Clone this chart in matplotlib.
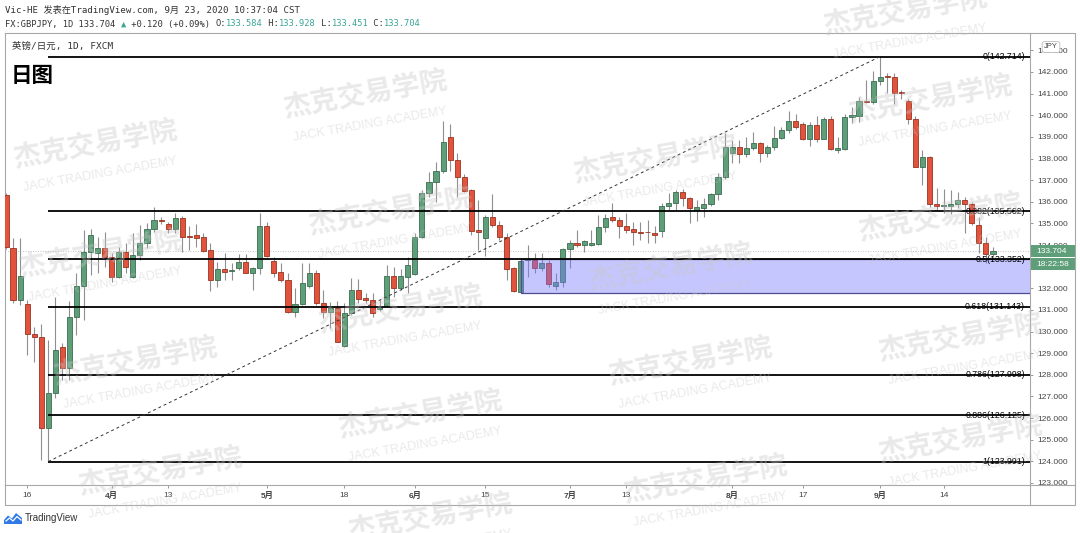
import matplotlib
matplotlib.use("Agg")
import matplotlib.pyplot as plt
from matplotlib.patches import Rectangle, Polygon
import numpy as np
import pandas as pd

# GBPJPY daily candles, 2020-03-11 .. 2020-09-23
opens = [136.31, 133.85, 131.46, 131.27, 129.87, 129.76, 125.56, 127.15, 129.27, 128.33,
         130.69, 132.12, 133.66, 133.62, 133.88, 133.46, 132.54, 133.66, 132.54, 133.54,
         134.08, 134.73, 135.16, 134.97, 134.73, 135.26, 134.44, 134.46, 134.36, 133.77,
         132.38, 132.88, 132.80, 132.92, 133.23, 132.72, 132.92, 134.89, 133.28, 132.74,
         132.38, 130.89, 131.27, 132.12, 132.72, 131.31, 130.89, 131.10, 129.33, 130.84,
         131.92, 131.55, 131.46, 131.06, 131.18, 132.58, 132.03, 132.54, 132.66, 134.39,
         136.39, 136.93, 137.44, 139.01, 137.93, 137.13, 136.54, 134.70, 134.31, 135.31,
         134.93, 134.36, 132.92, 131.84, 133.30, 133.31, 132.92, 133.15, 132.12, 132.28,
         133.82, 134.08, 134.00, 134.00, 134.05, 134.85, 135.28, 135.16, 134.89, 134.73,
         134.62, 134.60, 134.57, 134.65, 135.80, 135.93, 136.44, 136.16, 135.61, 135.73,
         135.90, 136.35, 137.13, 138.27, 138.52, 138.19, 138.50, 138.70, 138.27, 138.52,
         138.93, 139.32, 139.75, 139.58, 138.89, 139.55, 138.90, 139.83, 138.39, 138.43,
         139.93, 139.97, 140.67, 140.60, 141.60, 141.80, 141.78, 141.08, 140.67, 139.81,
         137.62, 138.06, 135.90, 135.80, 135.80, 135.88, 136.08, 135.90, 134.93, 134.08,
         133.584]
highs = [136.40, 134.33, 134.33, 131.46, 130.22, 130.35, 129.61, 131.61, 129.49, 131.41,
         132.71, 134.70, 134.73, 134.39, 134.62, 133.62, 133.92, 134.08, 134.54, 134.93,
         135.00, 135.77, 135.31, 135.08, 135.49, 135.34, 134.88, 134.97, 134.54, 134.08,
         133.23, 133.64, 133.16, 133.59, 133.59, 133.00, 135.47, 135.08, 133.43, 133.18,
         132.69, 132.00, 133.18, 133.18, 132.85, 131.92, 131.38, 131.41, 131.31, 132.46,
         132.42, 131.77, 131.80, 131.46, 133.08, 133.00, 132.88, 133.46, 134.54, 136.54,
         137.39, 137.83, 139.75, 139.60, 138.27, 137.28, 136.57, 136.08, 135.39, 136.35,
         135.13, 134.54, 133.00, 133.34, 134.00, 133.62, 133.62, 133.31, 132.69, 133.85,
         134.23, 134.70, 134.23, 134.70, 135.39, 135.42, 135.93, 135.28, 135.47, 135.08,
         135.08, 135.16, 134.88, 135.93, 136.39, 136.54, 136.57, 136.23, 136.08, 136.16,
         136.42, 137.32, 139.17, 138.86, 138.86, 138.98, 139.24, 138.78, 138.63, 139.50,
         139.44, 140.20, 140.06, 139.70, 139.70, 139.97, 139.93, 139.97, 139.01, 140.06,
         140.40, 140.86, 141.63, 142.06, 142.714, 141.94, 141.94, 141.17, 140.74, 139.97,
         138.39, 138.10, 136.62, 136.58, 136.54, 136.47, 136.23, 136.00, 135.31, 134.39,
         133.928]
lows = [133.80, 131.32, 131.23, 128.92, 128.61, 124.05, 123.991, 126.91, 127.76, 127.76,
        129.84, 130.53, 132.61, 132.72, 133.00, 132.31, 132.48, 132.69, 132.48, 133.31,
        133.85, 134.62, 134.97, 134.54, 134.54, 133.69, 133.77, 133.92, 133.69, 131.89,
        132.05, 132.38, 132.38, 132.85, 132.69, 131.92, 132.66, 133.43, 132.51, 132.31,
        130.84, 130.69, 131.23, 132.00, 131.23, 130.61, 130.15, 129.50, 129.30, 130.77,
        131.31, 131.31, 130.66, 130.96, 131.15, 131.61, 131.92, 131.77, 132.61, 134.31,
        136.23, 136.00, 137.34, 137.44, 136.23, 136.47, 134.46, 133.77, 133.49, 134.85,
        134.23, 132.38, 131.84, 131.80, 132.54, 132.69, 132.81, 132.05, 131.92, 132.05,
        132.92, 133.92, 133.69, 133.95, 134.00, 134.62, 135.08, 134.31, 134.57, 134.00,
        134.23, 134.08, 134.08, 134.36, 135.62, 135.62, 135.80, 135.00, 135.13, 135.31,
        135.80, 136.08, 137.04, 137.78, 137.78, 138.06, 138.39, 137.85, 138.08, 138.39,
        138.89, 139.17, 139.35, 138.86, 138.58, 138.78, 138.89, 138.39, 138.27, 138.39,
        139.63, 139.70, 140.55, 140.52, 141.40, 141.02, 140.52, 140.74, 139.60, 137.62,
        136.78, 135.77, 135.62, 135.47, 135.44, 135.70, 134.57, 134.93, 133.62, 133.15,
        133.451]
closes = [133.92, 131.46, 132.57, 129.87, 129.73, 125.56, 127.15, 129.15, 128.33, 130.69,
          132.12, 133.66, 134.46, 133.88, 133.46, 132.54, 133.66, 133.00, 133.54, 134.08,
          134.73, 135.16, 135.10, 134.73, 135.26, 134.39, 134.39, 134.34, 133.74, 132.38,
          132.88, 132.75, 132.82, 133.23, 132.72, 132.92, 134.89, 133.49, 132.72, 132.38,
          130.89, 131.27, 132.23, 132.72, 131.31, 130.89, 131.10, 129.53, 130.84, 131.92,
          131.50, 131.46, 130.87, 131.15, 132.58, 132.03, 132.57, 133.08, 134.39, 136.39,
          136.93, 137.44, 138.75, 137.93, 137.13, 136.51, 134.66, 134.58, 135.31, 134.93,
          134.36, 132.89, 131.89, 133.28, 133.34, 132.92, 133.15, 132.20, 132.31, 133.82,
          134.08, 134.00, 134.19, 134.08, 134.85, 135.26, 135.16, 134.88, 134.70, 134.62,
          134.57, 134.58, 134.46, 135.80, 135.96, 136.44, 136.16, 135.73, 135.75, 135.90,
          136.35, 137.13, 138.52, 138.52, 138.21, 138.47, 138.70, 138.27, 138.52, 138.93,
          139.32, 139.75, 139.44, 138.89, 139.55, 138.90, 139.83, 138.43, 138.47, 139.93,
          140.01, 140.67, 140.61, 141.60, 141.78, 141.76, 141.02, 141.02, 139.81, 137.62,
          138.06, 135.90, 135.80, 135.83, 135.90, 136.08, 135.90, 135.00, 134.08, 133.584,
          133.704]

fib_ratios = [0, 0.382, 0.5, 0.618, 0.786, 0.886, 1]
tick_dates = ["2020-03-16", "2020-04-01", "2020-04-13", "2020-05-01", "2020-05-18",
              "2020-06-01", "2020-06-15", "2020-07-01", "2020-07-13", "2020-08-03",
              "2020-08-17", "2020-09-01", "2020-09-14"]
tick_labels = ["16", "4月", "13", "5月", "18", "6月", "15", "7月", "13", "8月", "17", "9月", "14"]
price_ticks = list(range(123, 144))
session_left = "18:22:58"
symbol = "FX:GBPJPY, 1D"
header = "Vic-HE 发表在TradingView.com, 9月 23, 2020 10:37:04 CST"
title = "英镑/日元, 1D, FXCM"

watermarks = [(95, 145), (100, 255), (135, 362), (160, 472), (365, 95), (390, 212),
              (400, 310), (420, 415), (430, 518), (655, 160), (670, 268), (690, 362),
              (705, 480), (905, 12), (930, 100), (940, 218), (960, 338), (960, 440)]

plt.rcParams["font.family"] = ["Liberation Sans", "Noto Sans CJK SC"]

o = np.array(opens); h = np.array(highs); l = np.array(lows); c = np.array(closes)
n = len(c)
dates = pd.bdate_range(end="2020-09-23", periods=n)
x = np.arange(n)

W, H = 1080, 533
fig = plt.figure(figsize=(W / 100, H / 100), dpi=100)


def px_box(x0, y0, x1, y1):
    return [x0 / W, 1 - y1 / H, (x1 - x0) / W, (y1 - y0) / H]


ax = fig.add_axes(px_box(5, 33, 1030, 485))
ax.set_xlim(-0.14, 145.25)
ax.set_ylim(122.906, 143.803)

green, red = "#5e9f7a", "#e2533d"
up = c >= o
ax.vlines(x, l, h, color="#8f8f8f", lw=0.8, zorder=2)
ax.bar(x, np.maximum(np.abs(c - o), 0.03), bottom=np.minimum(o, c), width=0.72,
       color=np.where(up, green, red), edgecolor=np.where(up, "#3b6c52", "#9a3322"),
       linewidth=0.6, zorder=3)

# fib retracement from swing low to swing high
i_low, i_high = int(np.argmin(l)), int(np.argmax(h))
lo, hi = l[i_low], h[i_high]
levels = [hi - r * (hi - lo) for r in fib_ratios]
ax.hlines(levels, i_low, 150, colors="black", lw=1.3, zorder=5)
for r, lv in zip(fib_ratios, levels):
    ax.annotate(f"{r:g}({lv:.3f})", xy=(1, lv), xycoords=("axes fraction", "data"),
                xytext=(-5, 0), textcoords="offset pixels", ha="right", va="center",
                fontsize=6.3, color="black", zorder=6)
ax.plot([i_low, i_high], [lo, hi], color="#333333", lw=0.7, ls=(0, (3, 3)), zorder=5)

# demand zone box
i_box = 73
ax.add_patch(Rectangle((i_box, l[i_box]), 200, levels[2] - l[i_box],
                       facecolor=(0.47, 0.47, 1.0, 0.42), edgecolor="#4d4d8f", lw=0.9, zorder=4))

ax.axhline(c[-1], color="#b0b0b0", lw=0.6, ls=(0, (1, 2)), zorder=1)

ax.yaxis.tick_right()
ax.set_yticks(price_ticks)
ax.set_yticklabels([f"{p:.3f}" for p in price_ticks])
tick_pos = [dates.get_loc(pd.Timestamp(d)) for d in tick_dates]
ax.set_xticks(tick_pos)
ax.set_xticklabels(tick_labels)
for lbl, txt in zip(ax.get_xticklabels(), tick_labels):
    if "月" in txt:
        lbl.set_fontweight("bold")
ax.tick_params(axis="both", length=2.2, width=0.6, color="#888888", labelcolor="#444444",
               labelsize=6)
ax.tick_params(axis="y", pad=3)
ax.tick_params(axis="x", pad=3)
for s in ax.spines.values():
    s.set_color("#a8a8a8")
    s.set_linewidth(0.8)

# overlay in pixel coordinates
ov = fig.add_axes([0, 0, 1, 1], zorder=10)
ov.set_xlim(0, W)
ov.set_ylim(H, 0)
ov.axis("off")

bc = "#a8a8a8"
ov.plot([1030, 1075, 1075, 5, 5], [33, 33, 505, 505, 485], color=bc, lw=0.8)
ov.plot([1030, 1075], [485, 485], color=bc, lw=0.8)
ov.plot([1030, 1030], [485, 505], color=bc, lw=0.8)

# JPY label
ov.text(1051, 47, "JPY", ha="center", va="center", fontsize=5.5, color="#444444",
        bbox=dict(boxstyle="round,pad=0.25,rounding_size=0.3", fc="white", ec="#bbbbbb", lw=0.6))

# last price tags
y_px = H - ax.transData.transform((0, c[-1]))[1]
ov.add_patch(Rectangle((1031, y_px - 6), 44, 12, fc=green, ec="none"))
ov.add_patch(Rectangle((1031, y_px + 7), 44, 12, fc=green, ec="none"))
ov.text(1036, y_px, f"{c[-1]:.3f}", va="center", fontsize=6, color="white")
ov.text(1036, y_px + 13, session_left, va="center", fontsize=6, color="white")

mono = ["DejaVu Sans Mono", "DejaVu Sans", "Noto Sans CJK SC"]
dark, teal = "#333333", "#3aa597"
ov.text(5, 10, header, va="center", fontsize=6.6, color=dark, family=mono)

chg = c[-1] - c[-2]
segs = [(f"{symbol} {c[-1]:.3f} ", dark), ("▲", teal),
        (f" {chg:+.3f} ({chg / c[-2] * 100:+.2f}%) ", dark),
        ("O:", dark), (f"{o[-1]:.3f}", teal), (" H:", dark), (f"{h[-1]:.3f}", teal),
        (" L:", dark), (f"{l[-1]:.3f}", teal), (" C:", dark), (f"{c[-1]:.3f}", teal)]
cw = 0.602 * 6.3 * 100 / 72
xx = 5
for s, col in segs:
    ov.text(xx, 24, s, va="center", fontsize=6.3, color=col, family=mono)
    xx += len(s) * cw

ov.text(12, 46, title, va="center", fontsize=6.8, color=dark, family=["DejaVu Sans Mono", "Noto Sans CJK SC"])
ov.text(11, 76, "日图", va="center", fontsize=15.5, weight="bold", color="black",
        family="Noto Sans CJK SC")

# TradingView logo
ov.add_patch(Polygon([(4, 524), (4, 520), (8, 515.5), (12, 518.5), (16, 513), (22, 518), (22, 524)],
                     closed=True, fc="#2f7ae5", ec="none"))
ov.plot([6, 9.5, 13, 17, 21], [521, 518, 521, 516.5, 520], color="white", lw=0.9)
ov.text(25, 518, "TradingView", va="center", fontsize=7, color=dark)

# watermark
for cx, cy in watermarks:
    ov.text(cx, cy, "杰克交易学院", rotation=10, ha="center", va="center", fontsize=20,
            weight="bold", color=(0.78, 0.78, 0.78), alpha=0.38, family="Noto Sans CJK SC")
    ov.text(cx + 5, cy + 30, "JACK TRADING ACADEMY", rotation=10, ha="center", va="center",
            fontsize=9, color=(0.78, 0.78, 0.78), alpha=0.38)

fig.savefig("out.png", dpi=100)
